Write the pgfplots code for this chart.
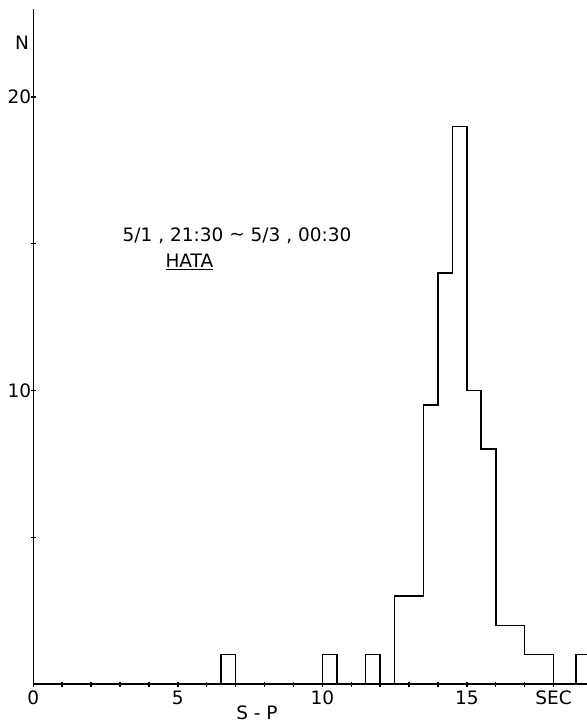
\documentclass[border=0pt]{standalone}
\usepackage{pgfplots}
\pgfplotsset{compat=1.18}
\usepackage{fontspec}
\setmainfont{DejaVu Sans}
\newcommand{\lbl}{\fontsize{18.5}{18.5}\selectfont}
\begin{document}
\begin{tikzpicture}
\begin{axis}[
  at={(0pt,0pt)}, anchor=origin,
  x=28.9pt, y=29.35pt,
  xmin=0, xmax=19.5, ymin=0, ymax=23,
  axis x line*=bottom, axis y line*=left,
  axis line style={line width=1.4pt},
  xtick={0,...,18},
  xticklabels={0,,,,,5,,,,,10,,,,,15,,,SEC},
  ytick={5,10,15,20},
  yticklabels={,10,,20},
  tick align=center,
  major tick length=5pt,
  tick style={line width=1.4pt, black},
  /pgf/number format/assume math mode=true,
  ticklabel style={font=\lbl},
  xticklabel style={yshift=-1pt},
  yticklabel style={xshift=4pt},
  clip mode=individual,
]
\addplot[const plot, line width=1.6pt, black] coordinates {(6.5,0)(6.5,1)(7,0)};
\addplot[const plot, line width=1.6pt, black] coordinates {(10,0)(10,1)(10.5,0)};
\addplot[const plot, line width=1.6pt, black] coordinates {(11.5,0)(11.5,1)(12,0)};
\addplot[const plot, line width=1.6pt, black] coordinates {(12.5,0)(12.5,3)(13.5,9.5)(14,14)(14.5,19)(15,10)(15.5,8)(16,2)(17,1)(18,0)};
\addplot[const plot, line width=1.6pt, black] coordinates {(18.78,0)(18.78,1)(19.4,0)};
\node[font=\lbl] at (axis cs:-0.39,21.84) {N};
\node[font=\lbl] at (axis cs:7.74,-0.99) {S - P};
\node[font=\lbl] at (axis cs:7.05,15.26) {5/1 , 21:30 {\raisebox{0.1em}{\textasciitilde}} 5/3 , 00:30};
\node[font=\lbl] at (axis cs:5.4,14.38) {\underline{HATA}};
\end{axis}
\pgfresetboundingbox
\useasboundingbox (-33.3pt,-40pt) rectangle (553.7pt,684pt);
\end{tikzpicture}
\end{document}
